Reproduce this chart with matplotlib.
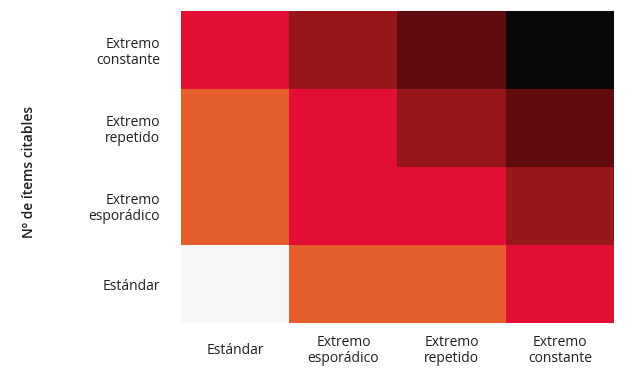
import matplotlib.pyplot as plt
import numpy as np
from matplotlib.colors import ListedColormap, BoundaryNorm

#---------------------------------------#
# DATA                                  #
#---------------------------------------#
# column categories (x axis)
X_LABELS = ['Estándar', 'Extremo\nesporádico', 'Extremo\nrepetido', 'Extremo\nconstante']
# row categories (y axis), top to bottom
Y_LABELS = ['Extremo\nconstante', 'Extremo\nrepetido', 'Extremo\nesporádico', 'Estándar']
# intensity level of each cell, rows top to bottom
LEVELS = [
    [2, 3, 4, 5],
    [1, 2, 3, 4],
    [1, 2, 2, 3],
    [0, 1, 1, 2],
]
Y_TITLE = 'Nº de ítems citables'

#---------------------------------------#
# STYLE                                 #
#---------------------------------------#
LEVEL_COLOURS = ['#f7f7f7', '#e55e2b', '#e20e33', '#96161a', '#600c0e', '#06080a']
TEXT_COLOUR = '#231f20'
plt.rcParams['font.family'] = ['Open Sans', 'DejaVu Sans']

fig = plt.figure(figsize=(6.38, 3.8), dpi=100)
ax = fig.add_axes([181 / 638, 1 - 323 / 380, (614 - 181) / 638, (323 - 11) / 380])

cmap = ListedColormap(LEVEL_COLOURS)
norm = BoundaryNorm(np.arange(-0.5, len(LEVEL_COLOURS)), cmap.N)
ax.imshow(np.array(LEVELS), cmap=cmap, norm=norm, aspect='auto',
          interpolation='nearest')

ax.set_xticks(range(len(X_LABELS)))
ax.set_xticklabels(X_LABELS, fontsize=10, color=TEXT_COLOUR, linespacing=1.1,
                   va='center')
ax.set_yticks(range(len(Y_LABELS)))
ax.set_yticklabels(Y_LABELS, fontsize=10, color=TEXT_COLOUR, linespacing=1.05,
                   ha='right', multialignment='right')
ax.tick_params(length=0)
ax.tick_params(axis='x', pad=20)
ax.tick_params(axis='y', pad=15)
for s in ax.spines.values():
    s.set_visible(False)

fig.text(29 / 638, 1 - 172 / 380, Y_TITLE, rotation=90, fontsize=10,
         fontweight='semibold', color=TEXT_COLOUR, ha='center', va='center')

fig.savefig('out.png', dpi=100, facecolor='white')
